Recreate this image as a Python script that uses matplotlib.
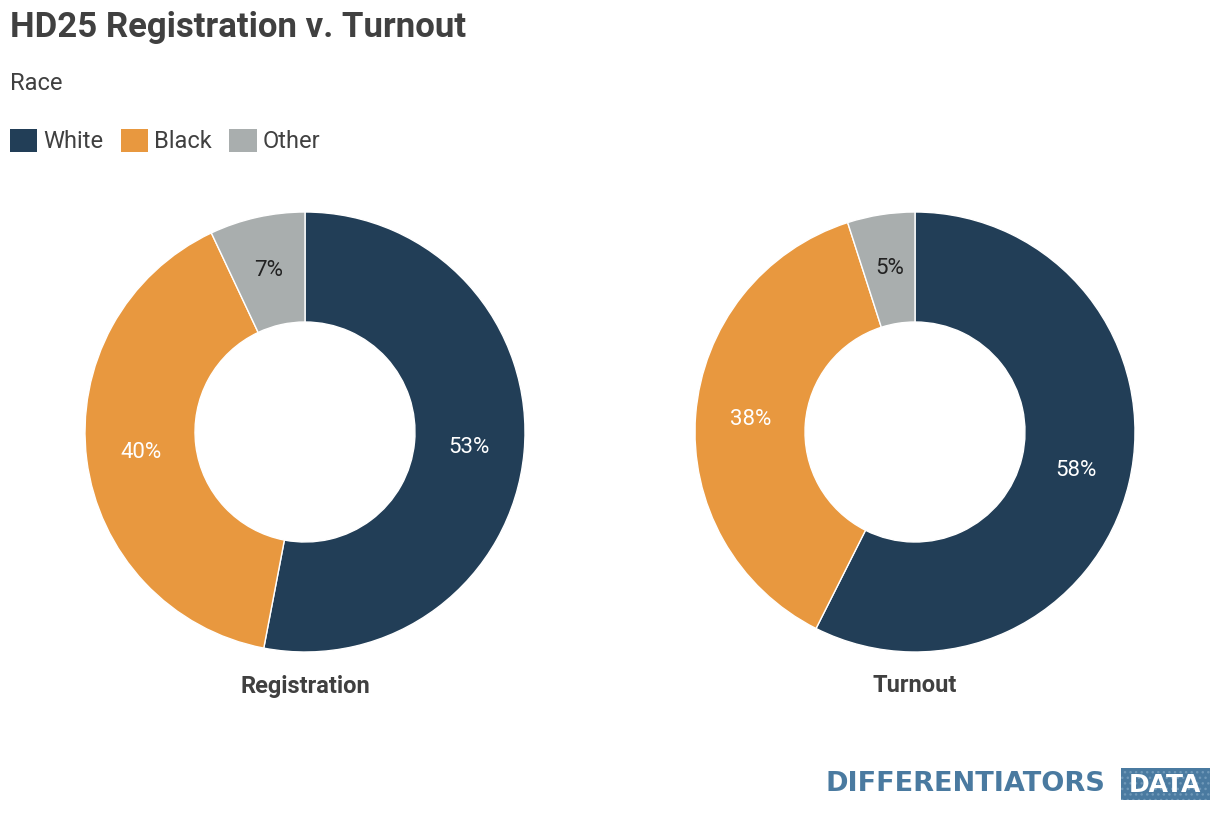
import matplotlib.pyplot as plt
from matplotlib.patches import Patch, Rectangle
from matplotlib import font_manager

# data
categories = ['White', 'Black', 'Other']
colors = ['#223e57', '#e8983f', '#a9aeae']
registration = [53, 40, 7]
turnout = [58, 38, 5]
panels = [('Registration', registration), ('Turnout', turnout)]

names = {f.name for f in font_manager.fontManager.ttflist}
base = 'Liberation Sans Narrow' if 'Liberation Sans Narrow' in names else 'Roboto'
plt.rcParams['font.family'] = [base, 'DejaVu Sans']

W, H = 1220, 818
fig = plt.figure(figsize=(W / 100, H / 100), dpi=100)

fig.text(10 / W, 1 - 28 / H, 'HD25 Registration v. Turnout', fontsize=25,
         fontweight='bold', color='#404040', va='center', ha='left')
fig.text(10 / W, 1 - 83 / H, 'Race', fontsize=17, color='#404040', va='center', ha='left')

# legend
handles = [Patch(facecolor=c, edgecolor='none') for c in colors]
fig.legend(handles, categories, loc='center left', bbox_to_anchor=(10 / W, 1 - 141 / H),
           ncol=3, frameon=False, fontsize=17, handlelength=1.15, handleheight=1.15,
           handletextpad=0.25, columnspacing=0.75, labelcolor='#404040',
           borderpad=0, borderaxespad=0)

# donuts
centers = [305, 915]
R = 220
for (title, vals), cx in zip(panels, centers):
    ax = fig.add_axes([(cx - R) / W, (H - 432 - R) / H, 2 * R / W, 2 * R / H])
    wedges, texts = ax.pie(vals, colors=colors, startangle=90, counterclock=False,
                           radius=1, labels=[f'{v}%' for v in vals], labeldistance=0.75,
                           wedgeprops=dict(width=0.5, edgecolor='white', linewidth=1),
                           textprops=dict(fontsize=16, ha='center', va='center'))
    for t, c in zip(texts, ['white', 'white', '#222222']):
        t.set_color(c)
    ax.set_xlim(-1, 1)
    ax.set_ylim(-1, 1)
    ax.set_aspect('equal')
    ax.axis('off')
    fig.text(cx / W, 1 - 686 / H, title, fontsize=17, fontweight='bold',
             color='#404040', ha='center', va='center')

# logo
fig.text(826 / W, 1 - 784 / H, 'DIFFERENTIATORS', fontsize=19.5, fontweight='bold',
         family='DejaVu Sans', color='#4a7aa0', ha='left', va='center')
fig.patches.append(Rectangle((1121 / W, 1 - 800 / H), 89 / W, 32 / H,
                             transform=fig.transFigure, facecolor='#4a7aa0',
                             edgecolor='#6f98b8', hatch='...', linewidth=0))
fig.text(1165 / W, 1 - 785 / H, 'DATA', fontsize=18, fontweight='bold',
         family='DejaVu Sans', color='white', ha='center', va='center')

fig.savefig('out.png', dpi=100)
